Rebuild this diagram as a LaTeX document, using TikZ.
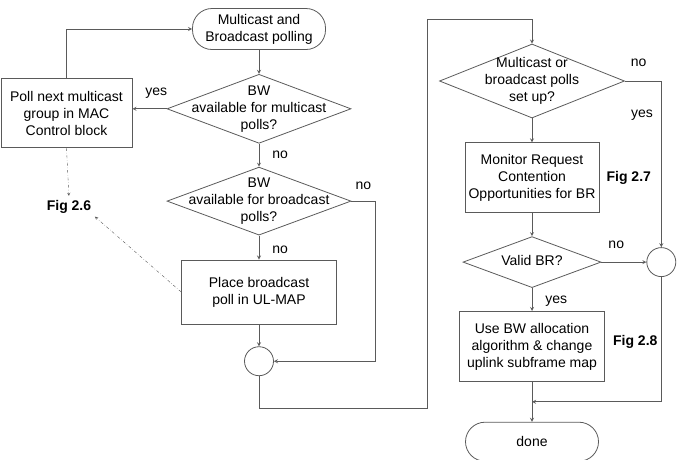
\documentclass[tikz,border=0pt]{standalone}
\usepackage{fontspec}
\setmainfont{Liberation Sans}
\usepackage{tikz}
\usetikzlibrary{positioning, shapes, arrows, calc}
\definecolor{flowgray}{RGB}{90, 90, 90}

% text of a decision, kept from widening the diamond
\newcommand{\dtext}[1]{\makebox[0pt]{\raisebox{-3.5pt}[0pt][0pt]{\begin{tabular}{@{}c@{}}#1\end{tabular}}}}

\begin{document}
\begin{tikzpicture}[
    x=1pt, y=-1pt,
    node distance=24pt,
    every node/.style={font=\fontsize{14}{17}\selectfont},
    box/.style={rectangle, draw=flowgray, line width=0.8pt, align=center, inner sep=2pt},
    term/.style={box, rounded corners=19.5pt, minimum width=133pt, minimum height=41pt},
    decision/.style={diamond, draw=flowgray, line width=0.8pt, inner sep=0pt},
    junction/.style={circle, draw=flowgray, line width=0.8pt, minimum size=29pt, inner sep=0pt},
    lbl/.style={inner sep=2pt, text height=10pt, text depth=3pt},
    fig/.style={lbl, font=\fontsize{14}{17}\selectfont\bfseries},
    arrow/.style={->, >=stealth, draw=flowgray, line width=0.8pt},
    figarrow/.style={->, >=stealth, draw=flowgray, thin, dash dot, shorten >=2pt}
]
    \useasboundingbox (0,0) rectangle (679,459);

    % left column
    \node[term] (start) at (259,29) {Multicast and\\Broadcast polling};
    \node[decision, minimum width=184pt, minimum height=69pt, below=of start] (bwmulti) {\dtext{BW\\available for multicast\\polls?}};
    \node[decision, minimum width=184pt, minimum height=68pt, below=23pt of bwmulti] (bwbroad) {\dtext{BW\\available for broadcast\\polls?}};
    \node[box, minimum width=155pt, minimum height=64pt, below=of bwbroad] (place) {Place broadcast\\poll in UL-MAP};
    \node[junction, below=22pt of place] (joinleft) {};
    \node[box, minimum width=131pt, minimum height=69pt] (pollnext) at (66.5,113) {Poll next multicast\\group in MAC\\Control block};
    \node[fig, below=50pt of pollnext, xshift=2.5pt] (fig26) {Fig 2.6};

    % right column
    \node[decision, minimum width=185pt, minimum height=74pt] (polls) at (532,81) {\dtext{Multicast or\\broadcast polls\\set up?}};
    \node[box, minimum width=134pt, minimum height=70pt, below=of polls] (monitor) {Monitor Request\\Contention\\Opportunities for BR};
    \node[decision, minimum width=138pt, minimum height=51pt, below=23pt of monitor] (validbr) {\dtext{Valid BR?}};
    \node[box, minimum width=145pt, minimum height=70pt, below=23pt of validbr] (alloc) {Use BW allocation\\algorithm \& change\\uplink subframe map};
    \node[term, minimum height=39pt, below=40pt of alloc] (done) {done};
    \node[junction, right=45pt of validbr] (joinright) {};
    \node[fig, right=5pt of monitor] (fig27) {Fig 2.7};
    \node[fig, right=6pt of alloc, yshift=4pt] (fig28) {Fig 2.8};

    \coordinate (loopbottom) at (427,408);
    \coordinate (looptop) at (427,19);
    \coordinate (merge) at ($(alloc.south)!0.5!(done.north)$);

    % left connectors
    \draw[arrow] (start) -- (bwmulti);
    \draw[arrow] (bwmulti.west) -- node[lbl, pos=0.3, above=8pt] {yes} (bwmulti.west -| pollnext.east);
    \draw[arrow] (pollnext.north) |- (start.west);
    \draw[arrow] (bwmulti) -- node[lbl, right=11pt] {no} (bwbroad);
    \draw[arrow] (bwbroad) -- node[lbl, pos=0.6, right=11pt] {no} (place);
    \draw[arrow] (bwbroad.east) -- node[lbl, above=6pt] {no} ++(24,0) |- (joinleft.east);
    \draw[arrow] (place) -- (joinleft);
    \draw[arrow] (joinleft.south) |- (loopbottom) -- (looptop) -| (polls.north);
    \draw[figarrow] (pollnext.south) -- (fig26.north);
    \draw[figarrow] (place.west) -- (fig26.south east);

    % right connectors
    \draw[arrow] (polls) -- (monitor);
    \draw[arrow] (polls.east) -| node[lbl, pos=0.19, above=9pt] {no} node[lbl, pos=0.6, left=6pt] {yes} (joinright.north);
    \draw[arrow] (monitor) -- (validbr);
    \draw[arrow] (validbr) -- node[lbl, pos=0.33, above=8pt] {no} (joinright);
    \draw[arrow] (validbr) -- node[lbl, right=11pt] {yes} (alloc);
    \draw[arrow] (alloc) -- (done);
    \draw[arrow] (joinright.south) |- (merge);
\end{tikzpicture}
\end{document}
